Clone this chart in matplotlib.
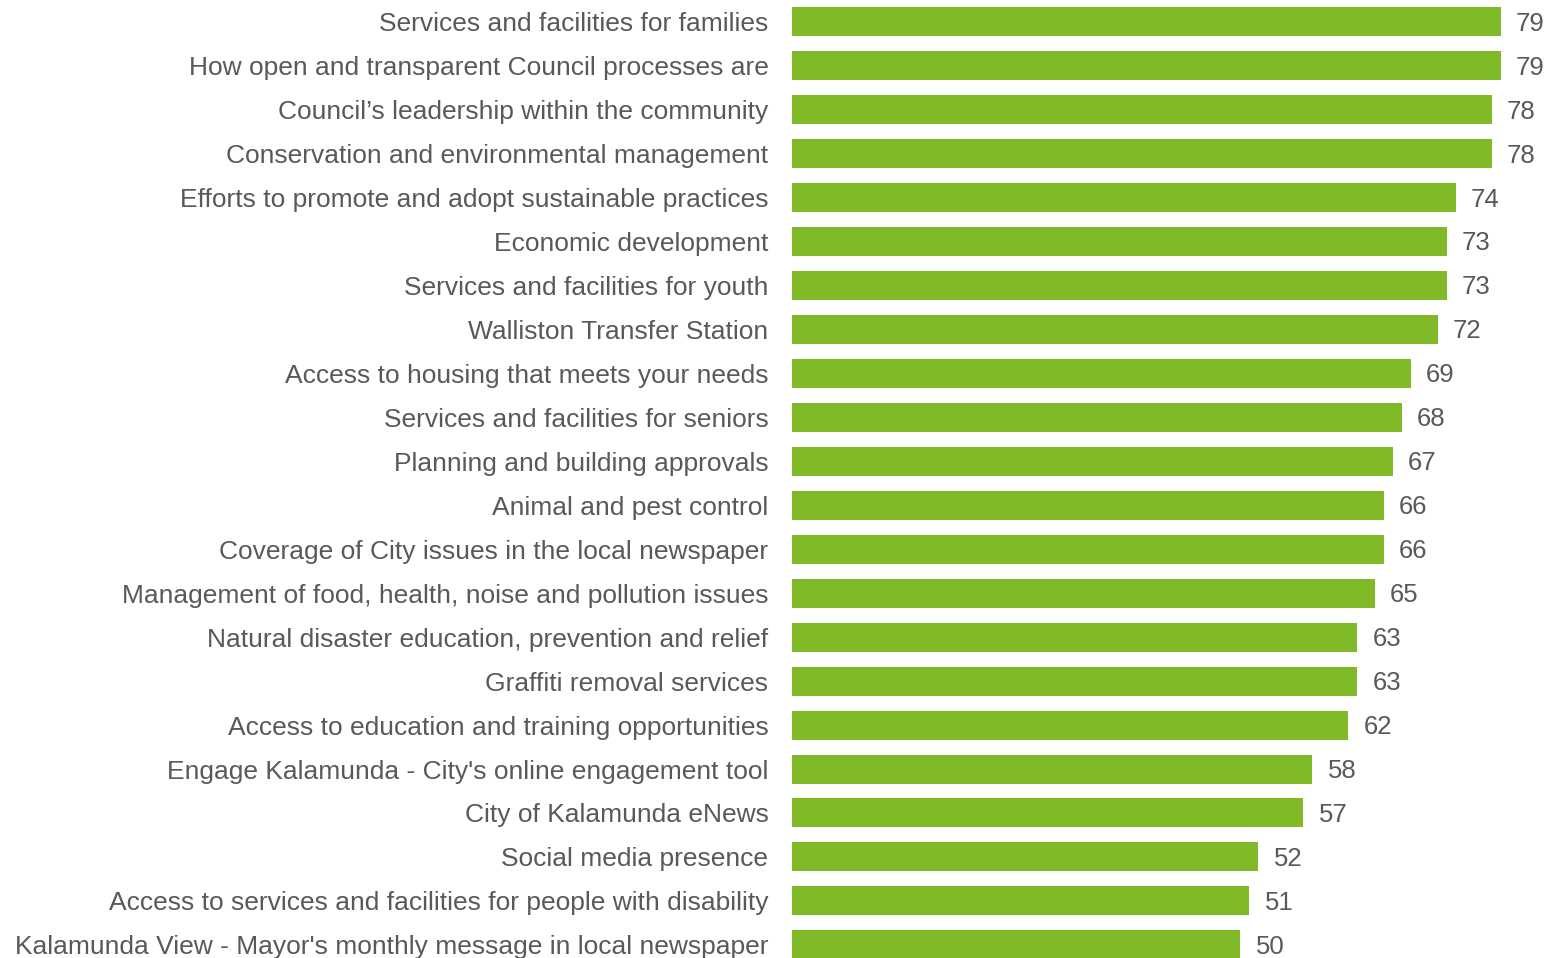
import matplotlib.pyplot as plt

# Categories and scores, top to bottom as in the chart
categories = [
    "Services and facilities for families",
    "How open and transparent Council processes are",
    "Council\u2019s leadership within the community",
    "Conservation and environmental management",
    "Efforts to promote and adopt sustainable practices",
    "Economic development",
    "Services and facilities for youth",
    "Walliston Transfer Station",
    "Access to housing that meets your needs",
    "Services and facilities for seniors",
    "Planning and building approvals",
    "Animal and pest control",
    "Coverage of City issues in the local newspaper",
    "Management of food, health, noise and pollution issues",
    "Natural disaster education, prevention and relief",
    "Graffiti removal services",
    "Access to education and training opportunities",
    "Engage Kalamunda - City's online engagement tool",
    "City of Kalamunda eNews",
    "Social media presence",
    "Access to services and facilities for people with disability",
    "Kalamunda View - Mayor's monthly message in local newspaper",
]
scores = [79, 79, 78, 78, 74, 73, 73, 72, 69, 68, 67, 66, 66, 65, 63, 63, 62, 58, 57, 52, 51, 50]

bar_color = "#80BA27"
text_color = "#595959"

plt.rcParams['font.family'] = ['Liberation Sans', 'DejaVu Sans']

fig = plt.figure(figsize=(15.49, 9.58), dpi=100)
ax = fig.add_axes([792 / 1549, 0, 1 - 792 / 1549, 1])

pos = list(range(len(categories)))
ax.barh(pos, scores, height=0.66, color=bar_color)

for p, v in zip(pos, scores):
    ax.text(v + 1.7, p + 0.04, str(v), va="center", ha="left", fontsize=18.5, color=text_color)

ax.set_yticks(pos)
ax.set_yticklabels(categories, fontsize=19, color=text_color)
ax.tick_params(axis="y", length=0, pad=17)
ax.set_xticks([])
ax.set_xlim(0, 84.4)
ax.set_ylim(21.3, -0.5)
for s in ax.spines.values():
    s.set_visible(False)

fig.savefig("out.png", dpi=100)
